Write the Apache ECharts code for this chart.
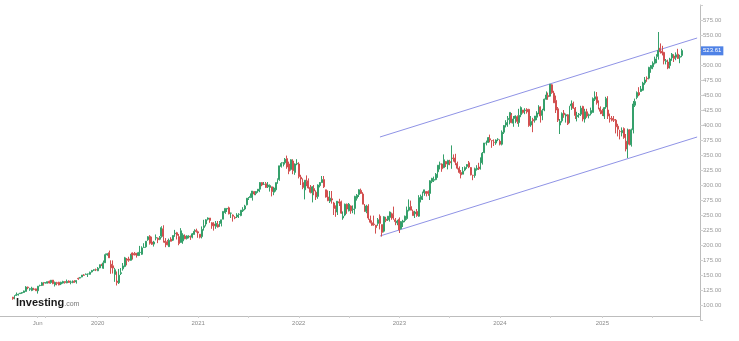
<!DOCTYPE html>
<html><head><meta charset="utf-8">
<script src="https://cdn.jsdelivr.net/npm/echarts@6/dist/echarts.min.js"></script>
<style>html,body{margin:0;padding:0;background:#fff}#c{width:739px;height:341px}</style>
</head><body><div id="c"></div>
<script>
// ---- axis / categories ----
const firstWeek = '2019-01-21';
const weekCount = 362;
const dataStartWeek = '2019-03-04';
const xTickDates = ['2019-06-03','2020-01-06','2021-01-04','2022-01-03','2023-01-02','2024-01-01','2025-01-06'];
const xTickLabels = ['Jun','2020','2021','2022','2023','2024','2025'];
const yMin = 75, yMax = 600, yStep = 25;
const lastPrice = 523.61;

// ---- weekly candles [open, close, low, high] ----
const ohlc2019 = [
[113,110.5,108.8,113.5],[110,115.9,109.5,116],[116,117,115.5,120.8],[116.7,117.9,115.8,119],
[118.9,119.9,118.5,120.2],[119.8,120.9,118.5,121.1],[120.9,123.4,120,124],[122.6,129.9,122.5,131.4],[129.8,128.9,126.3,130.7],
[126.4,127.1,123.6,128.6],[124.3,128.1,123,130.4],[126.5,126.2,124.7,128.6],[126.9,123.7,123.5,127.3],
[123.8,131.4,119,131.5],[132.4,132.5,131,133.8],[132.6,137,131.6,138.4],[137,134,132.3,138.4],
[136.6,137.5,135.7,137.7],[136.4,138.9,135.8,139.2],[139.4,136.6,135.9,140.7],[137.4,141.3,135.4,141.7],[141.5,135.7,134.6,141.7],
[133.8,137.7,130.8,139],[137.1,136.1,132.8,138.6],[137.9,133.4,132.8,138.7],[134.9,137.9,133.2,138.8],
[136.6,139.1,135.6,140.4],[139.1,137.3,135.6,139.2],[136.9,139.4,136.3,142.4],[140,137.7,136.7,141],[138,138.4,134.5,140.7],
[137.1,139.7,136.3,141],[139.7,137.4,137.2,141.4],[138.5,140.7,135.6,141.1],[144.4,143.7,142,145.7],
[144.8,146,144.1,146.4],[146.7,150,146.3,150],[150,149.6,148.5,151.4],[150.9,151.4,150.6,152.5],
[151.8,151.8,146.7,152],[151.1,154.5,150.6,155.6],[155.1,157.4,154.2,158.5],[158.1,158.7,156.6,159.5],[158.8,158.6,156.5,160.7]
];
const ohlc2020 = [
[157,161.3,156.5,163.2],[161.8,167.1,161.2,167.5],[166.7,165,164.8,168.7],[161.2,170.2,160.2,174.1],
[170.4,183.9,170,185.8],[183.6,185.4,182.2,186.2],[187.1,178.6,178.3,190.7],[167.8,162,152,174.5],
[165.3,161.6,152.4,174.3],[151,158.8,138.6,161.9],[140,137.4,132.5,155.9],[137,149.7,135,160.1],[152.4,153.8,150,161.6],
[160.3,165.1,157.3,170],[164.3,178.6,163,180.2],[176.6,174.6,166.1,178.3],[176.6,174.6,172,180.4],
[174.5,184.7,173.8,185],[186.8,183.2,175.7,187.7],[185.8,183.5,182.6,188.4],[186.3,183.3,179,186.6],
[182.5,187.2,181.5,188.5],[187.5,187.7,181.9,198.5],[184.6,195.2,183.5,197.8],[195.8,196.3,195.3,203],[197,206.3,195.4,206.4],
[208.8,213.7,207,214.7],[214.5,202.9,200.7,216.4],[205,201.3,200,213.9],[201.5,205,197.4,206.9],
[211.5,212.5,207.7,217.6],[211.4,208.9,203.1,212.6],[209.6,213,208,215],[214.8,228.9,212.2,231.2],[227,214.3,204,232.9],
[206.5,204,196.3,211.5],[205.4,200.4,199.5,208.5],[197.2,207.8,196.7,210.7],[209.7,206.2,206,213],
[208,215.8,206.6,215.8],[218.8,219.7,213.6,225.2],[220.4,216.2,209.2,221.9],[213.9,202.5,199.6,218.4],
[204.3,223.7,203.9,228.1],[206.9,216.5,202,219.6],[214.9,210.4,209.6,217.7],[210.9,215.2,209.1,216.3],[214.1,214.4,211,216.3],
[214.4,213.3,208.5,215.8],[213.1,218.6,211.2,220],[217.6,222.8,217.3,226.2],[224.5,222.4,220.7,227.2]
];
const ohlc2021 = [
[222,220,212,224],[218,213,211,218],[214,226,211,231],[229,232,224,242],
[235,242,231,243],[243,245,241,246],[245,241,237,245],[237,232,227,238],
[235,232,224,238],[231,236,227,240],[234,230,229,240],[231,237,230,240],[236,242,231,242],
[243,256,243,256],[254,261,252,261],[260,261,255,261],[262,252,251,264],
[253,253,245,254],[250,248,239,251],[246,245,243,248],[247,250,245,253],[251,251,245,253],
[249,258,248,258],[257,259,255,263],[260,265,258,267],[267,278,266,278],
[278,278,275,280],[279,281,279,286],[279,290,274,290],[289,285,283,290],
[286,289,283,290],[290,293,287,293],[293,304,288,305],[304,300,298,305],[301,301,300,305],
[302,296,295,305],[297,300,295,305],[296,299,289,301],[297,289,281,297],
[288,295,283,297],[292,304,289,304],[303,309,302,311],[309,332,307,332],
[331,336,329,338],[337,337,331,338],[337,343,334,345],[344,330,327,349],[335,323,318,339],
[326,342,324,343],[340,324,318,343],[321,335,317,336],[335,336,333,343]
];
const ohlc2022 = [
[335,314,311,338],[313,310,300,317],[304,296,293,311],[292,308,276,308],[310,306,298,316],
[307,295,294,311],[296,288,286,300],[287,297,271,298],[294,290,283,300],
[288,280,275,291],[281,300,277,301],[299,304,296,305],[304,309,304,315],
[309,297,295,315],[292,280,279,292],[280,274,273,291],[273,278,270,290],
[277,275,269,290],[270,261,250,272],[259,253,247,266],[255,273,250,273],[272,270,265,277],
[272,253,252,274],[245,248,242,256],[250,268,248,269],[268,260,252,269],
[257,268,256,270],[265,257,252,266],[259,260,253,266],[261,281,251,282],
[278,283,274,285],[284,292,280,293],[291,286,285,294],[285,268,268,288],[268,256,255,268],
[256,265,253,267],[265,245,242,268],[243,238,236,249],[237,233,232,241],
[235,234,232,249],[233,229,219,233],[236,242,232,245],[248,236,226,251],[234,221,214,234],
[223,247,221,248],[243,241,238,247],[242,248,240,248],[246,255,239,256],
[252,245,242,254],[251,245,242,264],[242,239,233,245],[237,240,233,242]
];
const ohlc2023 = [
[243,225,220,246],[227,239,226,240],[238,240,230,242],[241,248,238,249],[244,258,242,264],
[258,263,256,276],[264,258,258,274],[256,249,249,259],[252,255,245,257],
[256,249,247,260],[248,279,247,283],[276,281,271,284],[279,288,275,289],
[287,292,282,292],[289,286,281,290],[289,286,282,291],[286,307,275,308],
[306,311,303,312],[308,309,305,314],[309,318,308,320],[322,333,312,333],[335,335,326,339],
[335,327,322,336],[329,342,328,351],[339,335,330,340],[334,341,326,342],
[339,337,333,342],[332,345,327,366],[345,344,339,351],[345,338,333,352],[336,328,326,339],
[328,321,319,331],[321,317,311,325],[318,323,318,330],[325,329,323,331],
[331,334,327,335],[337,330,328,340],[329,317,316,330],[316,316,308,317],
[316,327,312,329],[326,328,324,333],[330,327,325,337],[326,330,326,346],[337,353,334,355],
[354,370,353,370],[370,370,366,374],[371,379,370,380],[377,375,371,384],
[374,374,362,374],[371,371,365,376],[370,375,367,376],[376,376,373,378]
];
const ohlc2024 = [
[373,368,366,376],[368,388,366,391],[388,399,385,400],[400,404,396,408],[409,411,397,415],
[409,421,401,421],[416,404,403,420],[403,410,397,415],[411,415,403,416],
[414,406,402,416],[404,416,397,427],[417,429,413,431],[425,421,419,425],
[424,425,418,428],[426,422,419,428],[426,399,397,427],[400,406,397,415],[409,407,388,412],
[408,415,404,415],[413,420,408,423],[420,430,418,433],[430,415,404,431],
[416,424,408,427],[425,443,423,444],[443,450,442,456],[449,447,442,454],
[448,468,447,468],[467,454,452,468],[453,437,437,457],[441,425,420,449],[427,408,405,430],
[400,406,385,410],[407,419,404,421],[420,417,412,425],[415,417,404,419],
[417,402,400,418],[404,431,403,432],[432,435,425,441],[436,428,427,439],[428,416,410,430],
[414,416,406,422],[417,418,412,420],[418,428,415,432],[431,410,406,432],
[410,422,404,427],[422,415,412,427],[416,417,411,419],[419,424,416,429],
[421,444,421,446],[443,447,440,456],[447,437,434,455],[438,431,426,441],[428,423,418,431]
];
const ohlc2025 = [
[424,419,415,427],[415,429,410,430],[430,444,427,447],[425,415,410,448],
[411,410,404,419],[411,408,406,415],[409,408,405,415],[408,397,386,410],
[398,393,381,402],[389,389,376,392],[387,391,381,396],[394,379,377,396],[373,360,356,385],
[350,388,345,394],[392,368,366,393],[367,392,364,394],[392,435,386,440],
[433,439,430,444],[446,454,443,456],[454,450,448,463],[456,460,455,465],
[458,470,457,472],[470,475,467,480],[478,477,472,481],[478,496,476,497],[494,499,487,500],
[497,503,493,506],[503,510,501,514],[511,514,503,518],[514,524,509,555],
[528,522,519,536],[523,520,516,532],[521,507,501,522],[506,507,501,510],
[505,495,493,509],[499,510,494,512],[512,518,507,520],[515,511,505,518],[513,517,508,521],
[518,511,510,527],[513,514,503,517],[516,524,513,527]
];

// ---- trend channel [week, price] ----
const channelUpper = [['2022-10-24', 380], ['2025-12-15', 545]];
const channelLower = [['2022-10-24', 215], ['2025-12-15', 380]];

// ---- build ----
const cats = [];
const d0 = new Date(firstWeek + 'T00:00:00Z');
for (let i = 0; i < weekCount; i++) {
  cats.push(new Date(d0.getTime() + i * 7 * 86400000).toISOString().slice(0, 10));
}
const pad = cats.indexOf(dataStartWeek);
const candles = [];
for (let i = 0; i < pad; i++) candles.push(['-', '-', '-', '-']);
[ohlc2019, ohlc2020, ohlc2021, ohlc2022, ohlc2023, ohlc2024, ohlc2025].forEach(a => a.forEach(r => candles.push(r)));

const labelMap = {};
xTickDates.forEach((d, i) => labelMap[d] = xTickLabels[i]);

const UP = '#35a06b', DOWN = '#d24f4f';
const chart = echarts.init(document.getElementById('c'), null, {renderer: 'canvas'});
chart.setOption({
  animation: false,
  backgroundColor: '#fff',
  grid: {left: 0, right: 39, top: 5, bottom: 21},
  xAxis: {
    type: 'category', data: cats, boundaryGap: true, offset: -4,
    axisLine: {show: true, lineStyle: {color: '#bdbdbd', width: 1}},
    axisTick: {show: true, alignWithLabel: true, length: 2, lineStyle: {color: '#cfcfcf'},
      interval: (i, v) => labelMap[v] !== undefined || v.slice(5, 7) === '07' && v.slice(8) <= '07'},
    axisLabel: {show: true, interval: (i, v) => labelMap[v] !== undefined,
      formatter: v => labelMap[v] || '', fontSize: 6, color: '#8a8a8a', margin: 4, fontFamily: 'Arial'},
    splitLine: {show: false}
  },
  yAxis: {
    type: 'value', position: 'right', min: yMin, max: yMax, interval: yStep, scale: false,
    axisLine: {show: true, lineStyle: {color: '#bdbdbd', width: 1}},
    axisTick: {show: true, length: 3, lineStyle: {color: '#cfcfcf'}},
    axisLabel: {fontSize: 6, color: '#9a9a9a', margin: 3, fontFamily: 'Arial',
      formatter: v => (v === yMin || v === yMax) ? '' : v.toFixed(2)},
    splitLine: {show: false}
  },
  graphic: [{
    type: 'text', left: 16, top: 297,
    style: {text: '{a|Investing}{b|.com}', rich: {
      a: {fontSize: 11, fontWeight: 'bold', fill: '#1a1a1a', fontFamily: 'Arial'},
      b: {fontSize: 7, fill: '#777', fontFamily: 'Arial', padding: [3, 0, 0, 0]}
    }}
  }],
  series: [
    {
      type: 'candlestick', data: candles, barWidth: '75%', z: 3,
      itemStyle: {color: UP, color0: DOWN, borderColor: UP, borderColor0: DOWN, borderWidth: 1},
      markLine: {
        silent: true, symbol: 'none', z: 10,
        lineStyle: {color: 'rgba(0,0,0,0)', width: 0, type: 'solid'},
        label: {show: true, position: 'end', distance: 1, formatter: () => lastPrice.toFixed(2),
          backgroundColor: '#4f82e6', color: '#fff', fontSize: 6, padding: [2, 2, 1, 2], fontFamily: 'Arial'},
        data: [{yAxis: lastPrice}]
      }
    },
    {type: 'line', data: channelUpper, symbol: 'none', silent: true,
     lineStyle: {color: '#8f93e6', width: 1}},
    {type: 'line', data: channelLower, symbol: 'none', silent: true,
     lineStyle: {color: '#8f93e6', width: 1}}
  ]
});
</script></body></html>
